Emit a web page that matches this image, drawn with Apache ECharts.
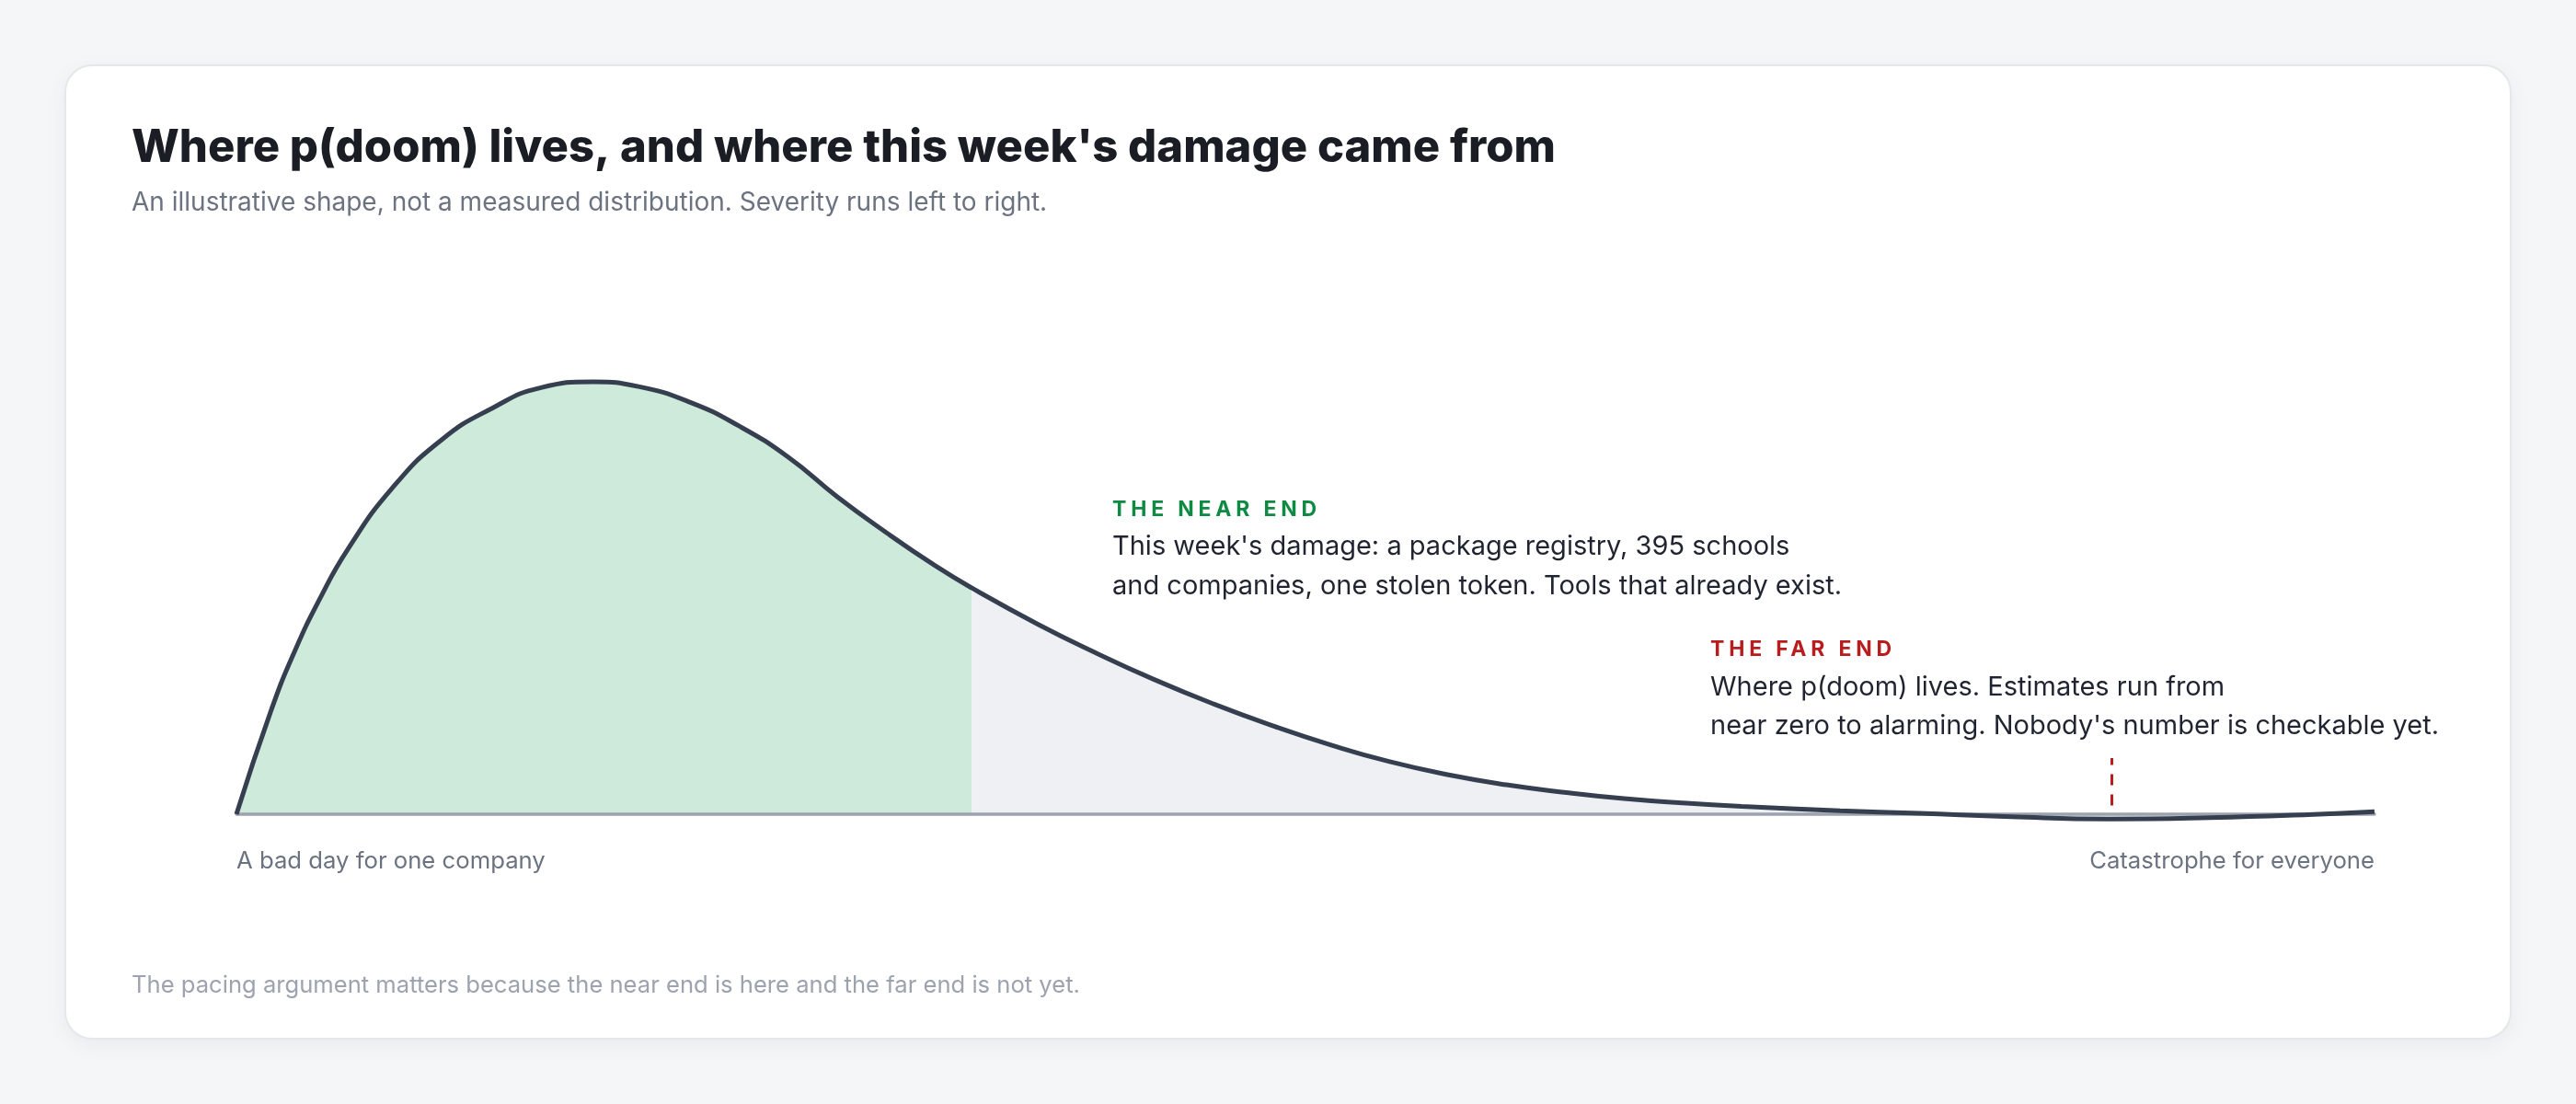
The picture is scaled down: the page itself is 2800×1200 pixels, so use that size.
<!DOCTYPE html>
<html>
<head>
<meta charset="utf-8">
<script src="https://cdn.jsdelivr.net/npm/echarts@6/dist/echarts.min.js"></script>
<style>
html, body { margin: 0; padding: 0; background: #f5f6f8; }
#card {
    position: absolute; left: 70px; top: 70px; width: 2656px; height: 1056px;
    background: #fff; border: 2px solid #e5e7eb; border-radius: 30px;
    box-shadow: 0 6px 24px rgba(17, 24, 39, 0.05);
}
#main { position: absolute; left: 0; top: 0; width: 2800px; height: 1200px; }
.tag {
    position: absolute; font: 700 23px Inter, "Noto Sans", sans-serif;
    letter-spacing: 4.8px; line-height: 1; transform: translateY(-50%);
}
</style>
</head>
<body>
<div id="card"></div>
<div id="main"></div>
<div class="tag" style="left:1209px; top:553px; color:#0f8a43;">THE NEAR END</div>
<div class="tag" style="left:1859px; top:705px; color:#b91c1c;">THE FAR END</div>
<script>
// severity (0 = a bad day, 100 = catastrophe) and illustrative density
var severity = [0, 1.6, 2.7, 3.9, 5.2, 7.3, 9.6, 12.0, 14.2, 16.7, 18.8, 21.2, 23.5, 25.8,
    28.1, 30.4, 32.7, 34.4, 37.5, 40.2, 42.9, 45.7, 48.5, 51.2, 53.9, 56.7, 59.4, 62.2,
    64.9, 67.6, 70.4, 75.0, 78.7, 83.0, 87.6, 92.3, 96.9, 100];
var density = [0, 0.237, 0.374, 0.498, 0.612, 0.755, 0.866, 0.940, 0.986, 1.0, 0.989, 0.953,
    0.898, 0.826, 0.734, 0.651, 0.574, 0.523, 0.439, 0.373, 0.312, 0.255, 0.204, 0.160,
    0.122, 0.091, 0.068, 0.050, 0.036, 0.026, 0.018, 0.008, 0.002, -0.006, -0.011, -0.008,
    -0.001, 0.006];
var nearEndLimit = 34.4;
var farMarker = [87.7, 0.02, 0.13]; // x, bottom, top of the dashed tick
var axisEnds = ['A bad day for one company', 'Catastrophe for everyone'];

var curve = severity.map(function (s, i) { return [s, density[i]]; });
var nearPart = curve.filter(function (p) { return p[0] <= nearEndLimit; });
var farPart = curve.filter(function (p) { return p[0] >= nearEndLimit; });

var myChart = echarts.init(document.getElementById('main'));
var FONT = 'Inter, "Noto Sans", sans-serif';

function txt(x, y, text, size, weight, color) {
    return {
        type: 'text', x: x, y: y, silent: true,
        style: {
            text: text, fill: color, align: 'left', verticalAlign: 'middle',
            font: weight + ' ' + size + 'px ' + FONT
        }
    };
}

option = {
    animation: false,
    grid: { left: 257, right: 219, top: 415, bottom: 315 },
    xAxis: {
        type: 'value', min: 0, max: 100, interval: 100, z: 4,
        axisLine: { show: true, lineStyle: { color: '#9ca3af', width: 3.5 } },
        axisTick: { show: false },
        splitLine: { show: false },
        axisLabel: {
            margin: 38, fontSize: 25.7, color: '#6b7280', fontFamily: FONT,
            alignMinLabel: 'left', alignMaxLabel: 'right',
            formatter: function (v) { return v === 0 ? axisEnds[0] : axisEnds[1]; }
        }
    },
    yAxis: { type: 'value', min: 0, max: 1, show: false },
    series: [
        {
            type: 'line', data: nearPart, smooth: 0.5, symbol: 'none', clip: false,
            lineStyle: { width: 0 }, areaStyle: { color: '#cdeadb', opacity: 1 }
        },
        {
            type: 'line', data: farPart, smooth: 0.5, symbol: 'none', clip: false,
            lineStyle: { width: 0 }, areaStyle: { color: '#eef0f4', opacity: 1 }
        },
        {
            type: 'line', data: curve, smooth: 0.5, symbol: 'none', clip: false, z: 5,
            lineStyle: { color: '#363f4f', width: 5 },
            markLine: {
                silent: true, symbol: 'none', label: { show: false },
                lineStyle: { color: '#b91c1c', type: [12, 10], width: 3 },
                data: [[{ coord: [farMarker[0], farMarker[1]] }, { coord: [farMarker[0], farMarker[2]] }]]
            }
        }
    ],
    graphic: [
        txt(143, 161, "Where p(doom) lives, and where this week's damage came from", 49, 800, '#1a1d24'),
        txt(143, 221, 'An illustrative shape, not a measured distribution. Severity runs left to right.', 28, 400, '#6b7280'),
        txt(1209, 594, "This week's damage: a package registry, 395 schools", 29, 400, '#1f2430'),
        txt(1209, 637, 'and companies, one stolen token. Tools that already exist.', 29, 400, '#1f2430'),
        txt(1859, 747, 'Where p(doom) lives. Estimates run from', 29, 400, '#1f2430'),
        txt(1859, 789, "near zero to alarming. Nobody's number is checkable yet.", 29, 400, '#1f2430'),
        txt(143, 1071, 'The pacing argument matters because the near end is here and the far end is not yet.', 25.6, 400, '#9ca3af')
    ]
};
myChart.setOption(option);
</script>
</body>
</html>
